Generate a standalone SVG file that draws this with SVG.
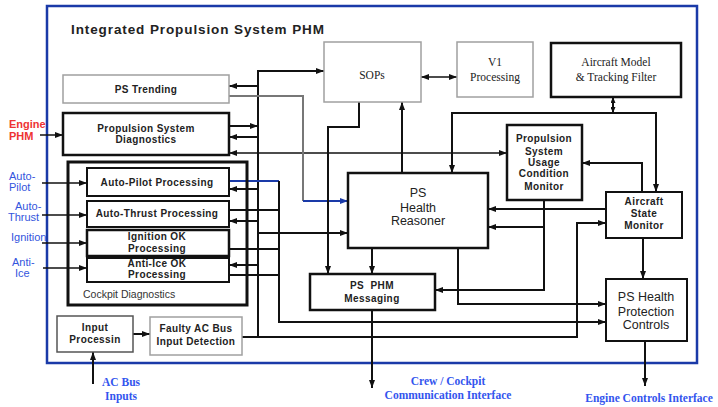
<svg xmlns="http://www.w3.org/2000/svg" width="718" height="407" viewBox="0 0 718 407">
<style>
  .sans { font-family: "Liberation Sans", Arial, sans-serif; }
  .serif { font-family: "Liberation Serif", "Times New Roman", serif; }
  .b { font-weight: bold; letter-spacing: 0.4px; }
  .box { fill: #fff; stroke: #111; stroke-width: 2; }
  .thick { stroke-width: 2.5; }
  .gbox { fill: #fff; stroke: #a0a0a0; stroke-width: 1.5; }
  .t { fill: #222; text-anchor: middle; }
  .c { fill: none; stroke: #111; stroke-width: 2; }
  .thin { stroke-width: 1.5; }
  .blue { fill: none; stroke: #1a3aa8; stroke-width: 2; }
  .gray { fill: none; stroke: #777; stroke-width: 2; }
  .lblB { fill: #3355dd; font-size: 11px; }
  .lblS { fill: #3355ee; font-size: 11.5px; font-weight: bold; text-anchor: middle; }
</style>
<defs>
  <marker id="a" viewBox="0 0 8 6" refX="8" refY="3" markerWidth="8" markerHeight="6" markerUnits="userSpaceOnUse" orient="auto-start-reverse">
    <path d="M0,0 L8,3 L0,6 z" fill="#111"/>
  </marker>
  <marker id="ab" viewBox="0 0 8 6" refX="8" refY="3" markerWidth="8" markerHeight="6" markerUnits="userSpaceOnUse" orient="auto">
    <path d="M0,0 L8,3 L0,6 z" fill="#1a3aa8"/>
  </marker>
  <marker id="as" viewBox="0 0 6 5" refX="6" refY="2.5" markerWidth="6" markerHeight="5" markerUnits="userSpaceOnUse" orient="auto-start-reverse">
    <path d="M0,0 L6,2.5 L0,5 z" fill="#111"/>
  </marker>
</defs>

<rect x="47" y="6" width="650" height="357" fill="#fff" stroke="#1a3aa8" stroke-width="2.5"/>
<text x="71" y="34" class="sans" font-weight="bold" font-size="13.5" letter-spacing="0.9" fill="#222">Integrated Propulsion System PHM</text>

<g id="connectors">
  <path class="c thin" d="M40,135 H63" marker-end="url(#a)"/>
  <path class="c thin" d="M42,183 H87" marker-end="url(#a)"/>
  <path class="c thin" d="M42,215 H87" marker-end="url(#a)"/>
  <path class="c thin" d="M42,243 H87" marker-end="url(#a)"/>
  <path class="c thin" d="M43,268 H87" marker-end="url(#a)"/>
  <path class="c" d="M258,337 V71 H324" marker-end="url(#a)"/>
  <path class="c" d="M258,86 H229" marker-end="url(#a)"/>
  <path class="c" d="M229,126 H258" marker-end="url(#a)"/>
  <path class="c" d="M258,137 H229" marker-end="url(#a)"/>
  <path class="c thin" d="M229,153 H507" marker-start="url(#a)" marker-end="url(#a)"/>
  <path class="blue" d="M229,181 H279"/>
  <path class="c" d="M279,181 V322 H606" marker-end="url(#a)"/>
  <path class="c" d="M258,189 H229" marker-end="url(#a)"/>
  <path class="c" d="M229,210 H279"/>
  <path class="c" d="M258,221 H229" marker-end="url(#a)"/>
  <path class="c" d="M229,249 H279"/>
  <path class="c" d="M258,265 H229" marker-end="url(#a)"/>
  <path class="c" d="M229,275 H279"/>
  <path class="c" d="M258,233 H348" marker-end="url(#a)"/>
  <path class="gray" d="M229,96 H303 V201"/>
  <path class="blue" d="M303,201 H348" marker-end="url(#ab)"/>
  <path class="c" d="M133,334 H150" marker-end="url(#a)"/>
  <path class="c" d="M93,384 V352" marker-end="url(#a)"/>
  <path class="c" d="M242,337 H577 V223 H606" marker-end="url(#a)"/>
  <path class="c" d="M359,102 V127 H328 V274" marker-end="url(#a)"/>
  <path class="c" d="M402,173 V102" marker-end="url(#a)"/>
  <path class="c thin" d="M421,77 H457" marker-start="url(#a)" marker-end="url(#a)"/>
  <path class="c" d="M613,113 V97" marker-start="url(#as)" marker-end="url(#as)"/>
  <path class="c" d="M452,173 V113 H656 V192" marker-start="url(#a)" marker-end="url(#a)"/>
  <path class="c" d="M372,248 V274" marker-end="url(#a)"/>
  <path class="c" d="M458,248 V304 H606" marker-end="url(#a)"/>
  <path class="c" d="M544,200 V290 H435" marker-end="url(#a)"/>
  <path class="c" d="M544,227 H488" marker-end="url(#a)"/>
  <path class="c" d="M606,209 H488" marker-end="url(#a)"/>
  <path class="c" d="M642,192 V163 H582" marker-end="url(#a)"/>
  <path class="c" d="M643,238 V279" marker-end="url(#a)"/>
  <path class="c" d="M645,341 V386" marker-end="url(#a)"/>
  <path class="c" d="M372,310 V388" marker-end="url(#a)"/>
</g>

<g id="ps-trending">
  <rect class="gbox" x="63" y="75" width="166" height="28"/>
  <text class="sans b t" font-size="10" x="146" y="93">PS Trending</text>
</g>
<g id="ps-diagnostics">
  <rect class="box thick" x="63" y="113" width="166" height="42"/>
  <text class="sans b t" font-size="10" x="146" y="132">Propulsion System</text>
  <text class="sans b t" font-size="10" x="146" y="143">Diagnostics</text>
</g>
<g id="cockpit-diagnostics">
  <rect fill="none" stroke="#111" stroke-width="3" x="68" y="162" width="179" height="143"/>
  <text class="sans" font-size="10.5" fill="#333" x="83" y="298">Cockpit Diagnostics</text>
</g>
<g id="auto-pilot">
  <rect class="box" x="87" y="168" width="142" height="28"/>
  <text class="sans b t" font-size="10" x="157" y="186">Auto-Pilot Processing</text>
</g>
<g id="auto-thrust">
  <rect class="box" x="87" y="201" width="142" height="26"/>
  <text class="sans b t" font-size="10" x="157" y="217">Auto-Thrust Processing</text>
</g>
<g id="ignition">
  <rect class="box thick" x="87" y="230" width="142" height="26"/>
  <text class="sans b t" font-size="10" x="157" y="240">Ignition OK</text>
  <text class="sans b t" font-size="10" x="157" y="252">Processing</text>
</g>
<g id="anti-ice">
  <rect class="box" x="87" y="258" width="142" height="24"/>
  <text class="sans b t" font-size="10" x="157" y="267">Anti-Ice OK</text>
  <text class="sans b t" font-size="10" x="157" y="278">Processing</text>
</g>
<g id="input-processing">
  <rect fill="#fff" stroke="#555" stroke-width="1.5" x="57" y="316" width="76" height="36"/>
  <text class="sans b t" font-size="10" x="95" y="331">Input</text>
  <text class="sans b t" font-size="10" x="95" y="343">Processin</text>
</g>
<g id="faulty-ac">
  <rect class="gbox" x="150" y="317" width="92" height="38"/>
  <text class="sans b t" font-size="10" x="196" y="332">Faulty AC Bus</text>
  <text class="sans b t" font-size="10" x="196" y="345">Input Detection</text>
</g>
<g id="sops">
  <rect class="gbox" x="324" y="42" width="97" height="60"/>
  <text class="serif t" font-size="11.5" x="372" y="79">SOPs</text>
</g>
<g id="v1">
  <rect class="gbox" x="457" y="42" width="76" height="55"/>
  <text class="serif t" font-size="11.5" x="495" y="66">V1</text>
  <text class="serif t" font-size="11.5" x="495" y="81">Processing</text>
</g>
<g id="aircraft-model">
  <rect class="box thick" x="551" y="43" width="130" height="54"/>
  <text class="serif t" font-size="11.5" x="616" y="66">Aircraft Model</text>
  <text class="serif t" font-size="11.5" x="616" y="81">&amp; Tracking Filter</text>
</g>
<g id="psucm">
  <rect class="box thick" x="507" y="125" width="75" height="75"/>
  <text class="sans b t" font-size="10" x="544" y="142">Propulsion</text>
  <text class="sans b t" font-size="10" x="544" y="155">System</text>
  <text class="sans b t" font-size="10" x="544" y="166">Usage</text>
  <text class="sans b t" font-size="10" x="544" y="177">Condition</text>
  <text class="sans b t" font-size="10" x="544" y="190">Monitor</text>
</g>
<g id="ps-health-reasoner">
  <rect class="box thick" x="348" y="173" width="140" height="75"/>
  <text class="sans t" font-size="12.5" fill="#333" x="418" y="197">PS</text>
  <text class="sans t" font-size="12.5" fill="#333" x="418" y="212">Health</text>
  <text class="sans t" font-size="12.5" fill="#333" x="418" y="225">Reasoner</text>
</g>
<g id="aircraft-state">
  <rect class="box" x="606" y="192" width="76" height="46"/>
  <text class="sans b t" font-size="10" x="644" y="205">Aircraft</text>
  <text class="sans b t" font-size="10" x="644" y="217">State</text>
  <text class="sans b t" font-size="10" x="644" y="229">Monitor</text>
</g>
<g id="ps-phm-messaging">
  <rect class="box thick" x="310" y="274" width="125" height="36"/>
  <text class="sans b t" font-size="10" letter-spacing="0.6" x="372" y="289" xml:space="preserve">PS  PHM</text>
  <text class="sans b t" font-size="10" letter-spacing="0.6" x="372" y="302">Messaging</text>
</g>
<g id="ps-health-protection">
  <rect class="box" x="606" y="279" width="81" height="62"/>
  <text class="sans t" font-size="12.5" fill="#333" x="646" y="301">PS Health</text>
  <text class="sans t" font-size="12.5" fill="#333" x="646" y="316">Protection</text>
  <text class="sans t" font-size="12.5" fill="#333" x="646" y="329">Controls</text>
</g>

<g id="labels">
  <text class="sans" font-weight="bold" font-size="11" fill="#ee3333" x="9" y="128">Engine</text>
  <text class="sans" font-weight="bold" font-size="11" fill="#ee3333" x="9" y="140">PHM</text>
  <text class="sans lblB" x="9" y="180">Auto-</text>
  <text class="sans lblB" x="9" y="191">Pilot</text>
  <text class="sans lblB" x="15" y="210">Auto-</text>
  <text class="sans lblB" x="8" y="221">Thrust</text>
  <text class="sans lblB" x="11" y="241">Ignition</text>
  <text class="sans lblB" x="12" y="266">Anti-</text>
  <text class="sans lblB" x="15" y="277">Ice</text>
  <text class="serif lblS" x="121" y="386">AC Bus</text>
  <text class="serif lblS" x="121" y="400">Inputs</text>
  <text class="serif lblS" x="448" y="385">Crew / Cockpit</text>
  <text class="serif lblS" x="448" y="399">Communication Interface</text>
  <text class="serif lblS" x="649" y="402">Engine Controls Interface</text>
</g>
</svg>
